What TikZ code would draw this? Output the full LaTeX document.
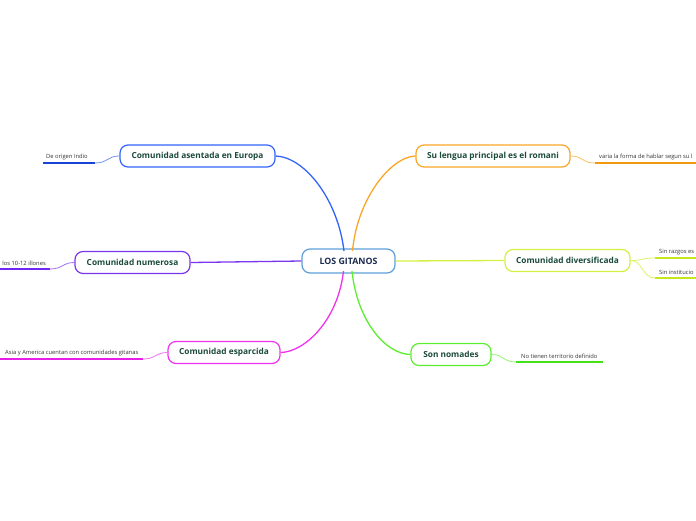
\documentclass[tikz,border=0pt]{standalone}
\usepackage{fontspec}
\setmainfont{Open Sans}
\definecolor{cblue}{HTML}{3264F8}
\definecolor{cblueD}{HTML}{1A44D6}
\definecolor{corange}{HTML}{FAA628}
\definecolor{corangeD}{HTML}{F29A0E}
\definecolor{cpurple}{HTML}{7A35EE}
\definecolor{cpurpleD}{HTML}{7026F5}
\definecolor{cyel}{HTML}{D4F040}
\definecolor{cyelD}{HTML}{C6E81A}
\definecolor{cmag}{HTML}{EE33EE}
\definecolor{cmagD}{HTML}{E81EE8}
\definecolor{cgreen}{HTML}{5CEE30}
\definecolor{cgreenD}{HTML}{44E018}
\definecolor{ccen}{HTML}{5E9FD8}
\definecolor{tgreen}{HTML}{1B4A3A}
\definecolor{tnavy}{HTML}{1C2B4F}
\definecolor{tleaf}{HTML}{333333}
\tikzset{
  mainbox/.style={draw, rounded corners=8pt, line width=1.2pt, fill=white,
    font=\bfseries\fontsize{8.3}{10}\selectfont, text=tgreen, inner sep=0pt,
    minimum height=22pt},
  cenbox/.style={mainbox, text=tnavy, draw=ccen, font=\bfseries\fontsize{8.8}{10}\selectfont},
  leaftext/.style={font=\fontsize{5.8}{7}\selectfont, text=tleaf, inner sep=0pt, anchor=south west},
  conn/.style={line width=1.3pt},
  lconn/.style={line width=0.8pt},
  uline/.style={line width=2pt}
}
\begin{document}
\begin{tikzpicture}[x=1pt,y=-1pt]
\useasboundingbox (0,0) rectangle (696,520);
\coordinate (cenNW) at (344,251);
\coordinate (cenNE) at (352.5,251);
\coordinate (cenSW) at (343.5,271);
\coordinate (cenSE) at (352,271);
% central
\node[cenbox, minimum width=93pt, minimum height=24pt] (cen) at (348.5,261) {LOS GITANOS};
% main nodes
\node[mainbox, draw=cblue, minimum width=155pt] (n1) at (197.5,156) {Comunidad asentada en Europa};
\node[mainbox, draw=corange, minimum width=154pt] (n2) at (493,156) {Su lengua principal es el romani};
\node[mainbox, draw=cpurple, minimum width=115pt] (n3) at (132.5,262.5) {Comunidad numerosa};
\node[mainbox, draw=cyel, minimum width=125pt] (n4) at (567.5,260.5) {Comunidad diversificada};
\node[mainbox, draw=cmag, minimum width=112pt] (n5) at (224,352.5) {Comunidad esparcida};
\node[mainbox, draw=cgreen, minimum width=80pt] (n6) at (451,354.5) {Son nomades};
\draw[conn, cblue] (n1.east) .. controls (305,157) and (338,200) .. (cenNW);
\draw[conn, corange] (n2.west) .. controls (390,157) and (357,200) .. (cenNE);
\draw[conn, cpurple] (n3.east) -- (cen.west);
\draw[conn, cyel] (cen.east) -- (n4.west);
\draw[conn, cmag] (cenSW) .. controls (338,320) and (305,352) .. (n5.east);
\draw[conn, cgreen] (cenSE) .. controls (357,320) and (385,354) .. (n6.west);
% leaf underlines
\coordinate (l1a) at (43,163); \coordinate (l1b) at (95,163);
\coordinate (l2a) at (595,163); \coordinate (l2b) at (696,163);
\coordinate (l3a) at (0,269); \coordinate (l3b) at (50,269);
\coordinate (l4a) at (655,258); \coordinate (l4b) at (696,258);
\coordinate (l5a) at (655,278); \coordinate (l5b) at (696,278);
\coordinate (l6a) at (0,359); \coordinate (l6b) at (143,359);
\coordinate (l7a) at (516,362); \coordinate (l7b) at (603,362);
\draw[uline, draw=cblueD] (l1a) -- (l1b);
\draw[uline, draw=corangeD] (l2a) -- (l2b);
\draw[uline, draw=cpurpleD] (l3a) -- (l3b);
\draw[uline, draw=cyelD] (l4a) -- (l4b);
\draw[uline, draw=cyelD] (l5a) -- (l5b);
\draw[uline, draw=cmagD] (l6a) -- (l6b);
\draw[uline, draw=cgreenD] (l7a) -- (l7b);
% leaf connectors
\draw[lconn, cblue!70] (l1b) .. controls (108,163) and (107,156) .. (n1.west);
\draw[lconn, corange!70] (n2.east) .. controls (583,156) and (582,163) .. (l2a);
\draw[lconn, cpurple!70] (l3b) .. controls (63,269) and (62,262.5) .. (n3.west);
\draw[lconn, cyel!80] (n4.east) .. controls (643,260.5) and (642,258) .. (l4a);
\draw[lconn, cyel!80] (n4.east) .. controls (643,260.5) and (642,278) .. (l5a);
\draw[lconn, cmag!70] (l6b) .. controls (156,359) and (155,352.5) .. (n5.west);
\draw[lconn, cgreen!70] (n6.east) .. controls (504,354.5) and (503,362) .. (l7a);
% leaf texts
\node[leaftext] (t1) at (46,160) {De origen Indio};
\node[leaftext] (t2) at (599,160) {varia la forma de hablar segun su l};
\node[leaftext, anchor=south east] (t3) at (46,266) {los 10-12 illones};
\node[leaftext] (t4) at (659,255) {Sin razgos es};
\node[leaftext] (t5) at (659,275) {Sin institucio};
\node[leaftext, anchor=south east] (t6) at (138.5,356) {Asia y America cuentan con comunidades gitanas};
\node[leaftext] (t7) at (521,359) {No tienen territorio definido};
\end{tikzpicture}
\end{document}
